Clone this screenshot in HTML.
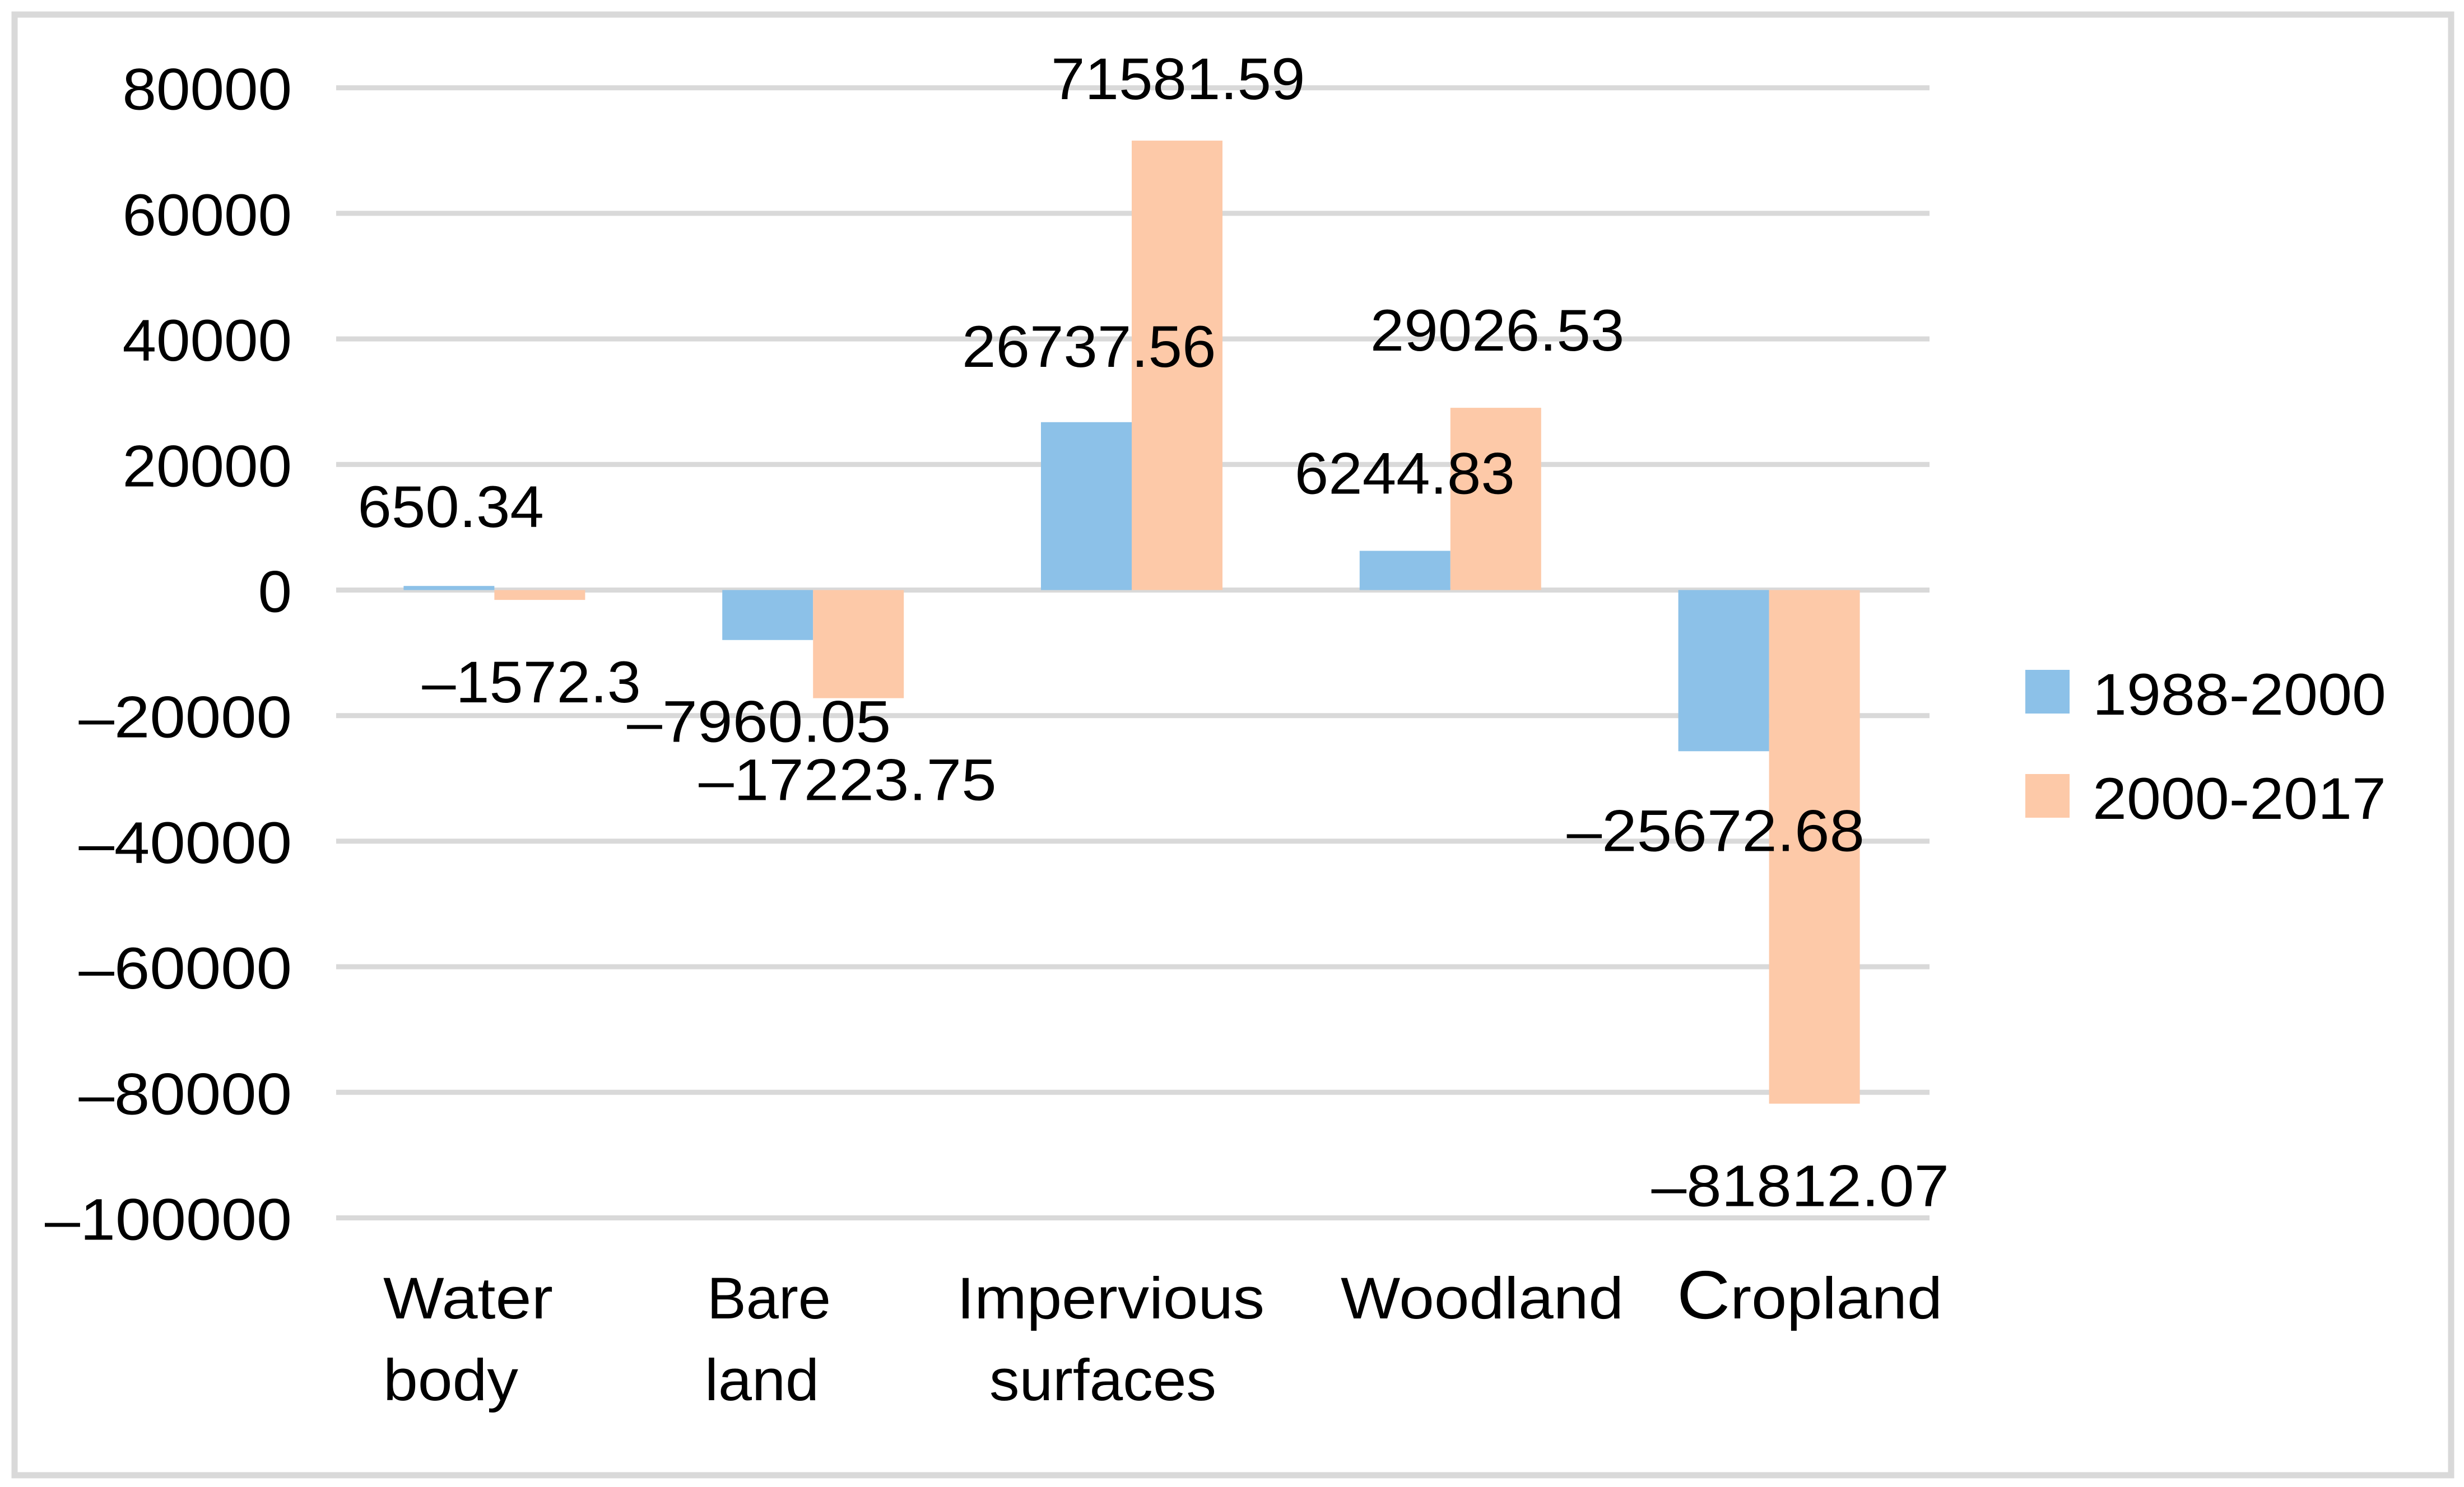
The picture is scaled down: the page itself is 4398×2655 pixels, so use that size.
<!DOCTYPE html>
<html lang="en">
<head>
<meta charset="utf-8">
<title>Land cover change by class</title>
<style>
  html, body { margin: 0; padding: 0; background: #ffffff; }
  svg { display: block; }
  text { font-family: "Liberation Sans", sans-serif; font-size: 105px; fill: #000000; }
</style>
</head>
<body>
<svg id="chart" xmlns="http://www.w3.org/2000/svg" width="4398" height="2655" viewBox="0 0 4398 2655">
  <rect x="0" y="0" width="4398" height="2655" fill="#ffffff"/>
  <rect x="26" y="26" width="4349" height="2608" fill="none" stroke="#d9d9d9" stroke-width="11"/>
  <g id="grid"></g>
  <g id="bars"></g>
  <g id="yticks"></g>
  <g id="cats"></g>
  <g id="vals"></g>
  <g id="legend"></g>
</svg>
<script>
const categories = ["Water body", "Bare land", "Impervious surfaces", "Woodland", "Cropland"];
const seriesNames = ["1988-2000", "2000-2017"];
const series1988 = [650.34, -7960.05, 26737.56, 6244.83, -25672.68];
const series2000 = [-1572.3, -17223.75, 71581.59, 29026.53, -81812.07];
const tickValues = [80000, 60000, 40000, 20000, 0, -20000, -40000, -60000, -80000, -100000];

// Layout (not data): label offsets relative to each bar, and category label placement.
const plot = { left: 600, right: 3444, zeroY: 1053.5, pxPerUnit: 224.2 / 20000, barW: 162, barShift: -2 };
const colors = ["#8cc1e8", "#fdc9a8"];
const labelDx = [[-82, -170, -141, -116, -199], [-129, -204, -144, -143, -210]];
const labelDy = [[-105, 182, -99, -102, 178], [183, 182, -74, -102, 183]];
const labelDw = [[0, 0, 0, 0, 0], [-20, 0, 0, 0, 0]];
const catLines = [
  [{ t: "Water", x: 684, w: 303 }, { t: "body", x: 684, w: 241 }],
  [{ t: "Bare", x: 1262, w: 221 }, { t: "land", x: 1258, w: 204 }],
  [{ t: "Impervious", x: 1708, w: 549 }, { t: "surfaces", x: 1766, w: 405 }],
  [{ t: "Woodland", x: 2393, w: 505 }],
  [{ t: "Cropland", x: 2993, w: 474, bigFirst: 122 }]
];

const NS = "http://www.w3.org/2000/svg";
const yScale = v => plot.zeroY - v * plot.pxPerUnit;
const band = (plot.right - plot.left) / categories.length;
const xCenter = i => plot.left + band * (i + 0.5) + plot.barShift;
const fmt = v => String(v).replace("-", "\u2013");
function textWidth(s) {
  let w = 0;
  for (const c of s) {
    if (c === ".") w += 30;
    else if (c === "\u2013") w += 78;
    else w += 60.5;
  }
  return w;
}
function makeText(parent, str, x, y, width, anchor) {
  const el = document.createElementNS(NS, "text");
  el.setAttribute("x", x);
  el.setAttribute("y", y);
  el.setAttribute("text-anchor", anchor || "start");
  el.setAttribute("textLength", width);
  el.setAttribute("lengthAdjust", "spacingAndGlyphs");
  el.textContent = str;
  parent.appendChild(el);
  return el;
}

const gGrid = document.getElementById("grid");
const gTicks = document.getElementById("yticks");
tickValues.forEach(v => {
  const line = document.createElementNS(NS, "line");
  line.setAttribute("x1", plot.left);
  line.setAttribute("x2", plot.right);
  line.setAttribute("y1", yScale(v));
  line.setAttribute("y2", yScale(v));
  line.setAttribute("stroke", "#d9d9d9");
  line.setAttribute("stroke-width", "9");
  
  
  gGrid.appendChild(line);
  const s = fmt(v);
  const label = makeText(gTicks, s, 521, yScale(v) + 39, textWidth(s), "end");
  
  
});

const gBars = document.getElementById("bars");
const gVals = document.getElementById("vals");
[series1988, series2000].forEach((values, s) => {
  values.forEach((v, i) => {
    const left = xCenter(i) - plot.barW + s * plot.barW;
    const yV = yScale(v);
    const yZ = yScale(0);
    const bar = document.createElementNS(NS, "rect");
    bar.setAttribute("x", left);
    bar.setAttribute("y", Math.min(yV, yZ));
    bar.setAttribute("width", plot.barW);
    bar.setAttribute("height", Math.abs(yV - yZ));
    bar.setAttribute("fill", colors[s]);
    
    
    gBars.appendChild(bar);
    const str = fmt(v);
    const label = makeText(gVals, str, left + labelDx[s][i], yV + labelDy[s][i], textWidth(str) + labelDw[s][i]);
    
    
  });
});

const gCats = document.getElementById("cats");
catLines.forEach(lines => {
  lines.forEach((ln, j) => {
    const label = makeText(gCats, ln.t, ln.x, 2354 + j * 146, ln.w);
    if (ln.bigFirst) {
      label.textContent = "";
      const first = document.createElementNS(NS, "tspan");
      first.setAttribute("font-size", ln.bigFirst);
      first.textContent = ln.t.charAt(0);
      label.appendChild(first);
      label.appendChild(document.createTextNode(ln.t.slice(1)));
    }
    
    
  });
});

const gLegend = document.getElementById("legend");
const legendY = [1196, 1382];
seriesNames.forEach((name, s) => {
  const sw = document.createElementNS(NS, "rect");
  sw.setAttribute("x", 3615);
  sw.setAttribute("y", legendY[s]);
  sw.setAttribute("width", 79);
  sw.setAttribute("height", 78);
  sw.setAttribute("fill", colors[s]);
  
  
  gLegend.appendChild(sw);
  const label = makeText(gLegend, name, 3735, legendY[s] + 80, 524);
  
  
});
</script>
</body>
</html>
